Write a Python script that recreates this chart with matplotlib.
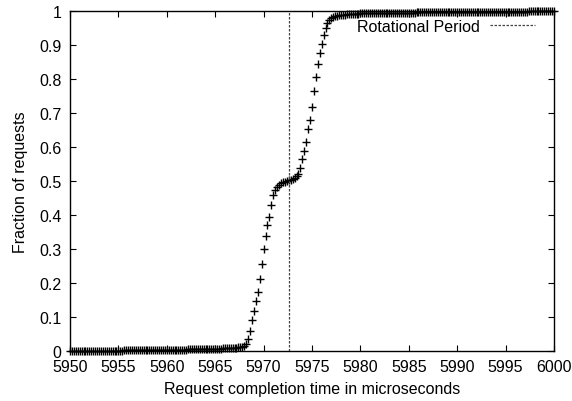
import numpy as np
import matplotlib
matplotlib.use("Agg")
import matplotlib.pyplot as plt

plt.rcParams['font.family'] = ['Liberation Sans', 'DejaVu Sans']

# Request completion time samples (microseconds), 0.2 us apart
x_start, x_step = 5950.0, 0.2
cdf_values = [
    # 5950
    0.000, 0.000, 0.000, 0.000, 0.000,
    0.000, 0.000, 0.000, 0.001, 0.001,
    0.001, 0.001, 0.001, 0.001, 0.001,
    0.001, 0.001, 0.001, 0.001, 0.001,
    0.001, 0.001, 0.001, 0.001, 0.001,
    # 5955
    0.001, 0.001, 0.001, 0.002, 0.002,
    0.002, 0.002, 0.002, 0.002, 0.002,
    0.002, 0.002, 0.002, 0.002, 0.002,
    0.002, 0.003, 0.003, 0.003, 0.003,
    0.003, 0.003, 0.003, 0.003, 0.003,
    # 5960
    0.003, 0.003, 0.003, 0.004, 0.004,
    0.004, 0.004, 0.004, 0.004, 0.004,
    0.004, 0.005, 0.005, 0.005, 0.005,
    0.005, 0.005, 0.005, 0.006, 0.006,
    0.006, 0.006, 0.006, 0.006, 0.007,
    # 5965
    0.007, 0.007, 0.007, 0.007, 0.008,
    0.008, 0.008, 0.009, 0.009, 0.009,
    0.010, 0.010, 0.011, 0.012, 0.013,
    0.016, 0.022, 0.035, 0.058, 0.090,
    0.118, 0.148, 0.175, 0.212, 0.255,
    # 5970
    0.300, 0.338, 0.370, 0.395, 0.430,
    0.458, 0.474, 0.484, 0.490, 0.494,
    0.497, 0.499, 0.501, 0.503, 0.505,
    0.507, 0.510, 0.515, 0.522, 0.540,
    0.565, 0.588, 0.616, 0.655, 0.680,
    # 5975
    0.720, 0.765, 0.808, 0.845, 0.878,
    0.905, 0.932, 0.952, 0.966, 0.975,
    0.980, 0.984, 0.986, 0.988, 0.989,
    0.990, 0.991, 0.991, 0.992, 0.992,
    0.992, 0.993, 0.993, 0.993, 0.993,
    # 5980
    0.994, 0.994, 0.994, 0.994, 0.994,
    0.994, 0.994, 0.995, 0.995, 0.995,
    0.995, 0.995, 0.995, 0.995, 0.995,
    0.995, 0.995, 0.996, 0.996, 0.996,
    0.996, 0.996, 0.996, 0.996, 0.996,
    # 5985
    0.996, 0.996, 0.996, 0.996, 0.997,
    0.997, 0.997, 0.997, 0.997, 0.997,
    0.997, 0.997, 0.997, 0.997, 0.997,
    0.997, 0.998, 0.998, 0.998, 0.998,
    0.998, 0.998, 0.998, 0.998, 0.998,
    # 5990
    0.998, 0.998, 0.998, 0.998, 0.998,
    0.998, 0.998, 0.998, 0.998, 0.998,
    0.998, 0.999, 0.999, 0.999, 0.999,
    0.999, 0.999, 0.999, 0.999, 0.999,
    0.999, 0.999, 0.999, 0.999, 0.999,
    # 5995
    0.999, 0.999, 0.999, 0.999, 0.999,
    0.999, 0.999, 0.999, 0.999, 0.999,
    0.999, 0.999, 1.000, 1.000, 1.000,
    1.000, 1.000, 1.000, 1.000, 1.000,
    1.000, 1.000, 1.000, 1.000, 1.000,
    # 6000
    1.000,
]
times = x_start + x_step * np.arange(len(cdf_values))

rotational_period = 5972.6

x_ticks = [5950, 5955, 5960, 5965, 5970, 5975, 5980, 5985, 5990, 5995, 6000]
y_ticks = [0, 0.1, 0.2, 0.3, 0.4, 0.5, 0.6, 0.7, 0.8, 0.9, 1]
y_tick_labels = ['0', '0.1', '0.2', '0.3', '0.4', '0.5', '0.6', '0.7', '0.8', '0.9', '1']

fig = plt.figure(figsize=(5.72, 4.02), dpi=100)
ax = fig.add_axes([0.1224, 0.1244, 0.8461, 0.8446])

ax.plot(times, cdf_values, linestyle='none', marker='+', markersize=5.5,
        markeredgewidth=1.0, color='black', clip_on=False)
ax.axvline(rotational_period, color='#444444', linewidth=0.9,
           dashes=(2.0, 1.2), label='Rotational Period')

ax.set_xlim(5950, 6000)
ax.set_ylim(0, 1)
ax.set_xticks(x_ticks)
ax.set_yticks(y_ticks)
ax.set_yticklabels(y_tick_labels)
ax.tick_params(direction='in', top=True, right=True, length=4, width=0.8,
               labelsize=11.5, pad=6)
for s in ax.spines.values():
    s.set_linewidth(1.0)

ax.set_xlabel('Request completion time in microseconds', fontsize=11.5, labelpad=5)
ax.set_ylabel('Fraction of requests', fontsize=11.5, labelpad=8)

ax.legend(loc='upper right', bbox_to_anchor=(0.973, 0.998), frameon=False,
          markerfirst=False, fontsize=11.5, handlelength=2.8, handletextpad=0.6,
          borderaxespad=0)

fig.savefig('out.png', dpi=100)
